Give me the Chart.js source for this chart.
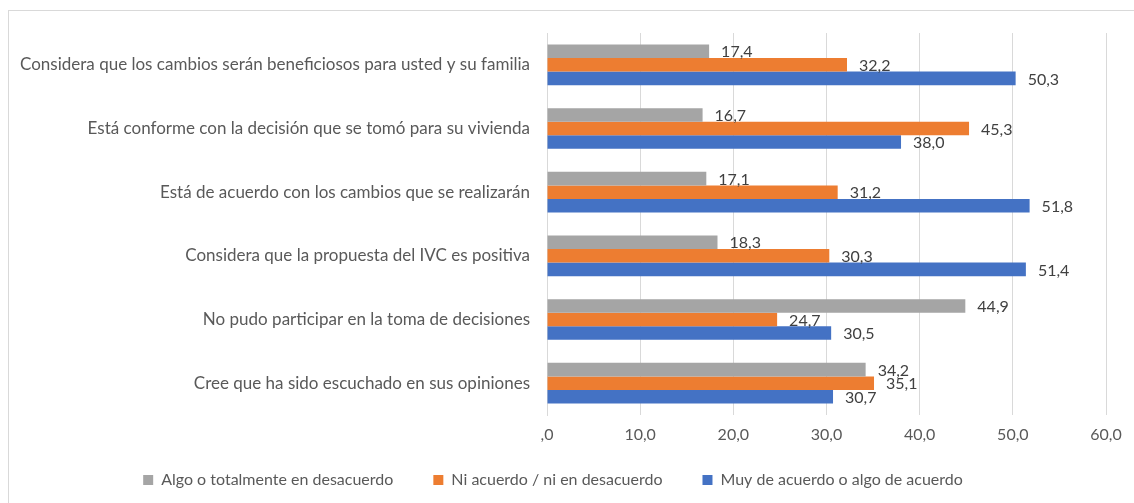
<!DOCTYPE html>
<html>
<head>
<meta charset="utf-8">
<script src="https://cdn.jsdelivr.net/npm/chart.js@4/dist/chart.umd.min.js"></script>
<style>
  html, body { margin: 0; padding: 0; background: #fff; }
  #wrap { position: relative; width: 1134px; height: 503px; }
  #frame { position: absolute; left: 8px; top: 10px; width: 1140px; height: 500px;
           border-left: 1px solid #D9D9D9; border-top: 1px solid #D9D9D9; box-sizing: border-box; }
  canvas { position: absolute; left: 0; top: 0; }
</style>
</head>
<body>
<div id="wrap">
  <div id="frame"></div>
  <canvas id="c" width="1134" height="503"></canvas>
</div>
<script>
const categories = [
  "Considera que los cambios serán beneficiosos para usted y su familia",
  "Está conforme con la decisión que se tomó para su vivienda",
  "Está de acuerdo con los cambios que se realizarán",
  "Considera que la propuesta del IVC es positiva",
  "No pudo participar en la toma de decisiones",
  "Cree que ha sido escuchado en sus opiniones"
];
const seriesNames = [
  "Algo o totalmente en desacuerdo",
  "Ni acuerdo / ni en desacuerdo",
  "Muy de acuerdo o algo de acuerdo"
];
const desacuerdo = [17.4, 16.7, 17.1, 18.3, 44.9, 34.2];
const niAcuerdo  = [32.2, 45.3, 31.2, 30.3, 24.7, 35.1];
const deAcuerdo  = [50.3, 38.0, 51.8, 51.4, 30.5, 30.7];
const xTicks = [0, 10, 20, 30, 40, 50, 60];

const FONT = "Lato, 'Open Sans', sans-serif";
const fmt = v => v === 0 ? ",0" : v.toFixed(1).replace(".", ",");

const valueLabels = {
  id: "valueLabels",
  afterDatasetsDraw(chart) {
    const ctx = chart.ctx;
    ctx.save();
    ctx.font = "16px " + FONT;
    ctx.fillStyle = "#404040";
    ctx.textAlign = "left";
    ctx.textBaseline = "middle";
    chart.data.datasets.forEach((ds, i) => {
      const meta = chart.getDatasetMeta(i);
      meta.data.forEach((bar, j) => {
        ctx.fillText(fmt(ds.data[j]), bar.x + 12, bar.y + 1);
      });
    });
    ctx.restore();
  }
};

new Chart(document.getElementById("c"), {
  type: "bar",
  data: {
    labels: categories,
    datasets: [
      { label: seriesNames[0], data: desacuerdo, backgroundColor: "#A5A5A5" },
      { label: seriesNames[1], data: niAcuerdo, backgroundColor: "#ED7D31" },
      { label: seriesNames[2], data: deAcuerdo, backgroundColor: "#4472C4" }
    ]
  },
  options: {
    indexAxis: "y",
    responsive: false,
    animation: false,
    maintainAspectRatio: false,
    layout: { padding: { left: 0, right: 28, top: 33, bottom: 5 } },
    datasets: { bar: { categoryPercentage: 0.64, barPercentage: 1.0, borderWidth: 0 } },
    scales: {
      x: {
        min: 0, max: 60,
        afterBuildTicks: s => { s.ticks = xTicks.map(v => ({ value: v })); },
        ticks: { callback: v => fmt(v), color: "#595959", font: { family: FONT, size: 16 }, padding: 10 },
        grid: { color: "#D9D9D9", drawTicks: false, lineWidth: 1 },
        border: { display: false },
        afterFit: s => { s.height = 17; s._computeLabelArea = () => undefined; }
      },
      y: {
        ticks: { color: "#595959", font: { family: FONT, size: 17 }, padding: 17 },
        grid: { display: false, drawTicks: false },
        border: { display: true, color: "#D9D9D9" },
        afterFit: s => { s.width = 547; }
      }
    },
    plugins: {
      legend: {
        position: "bottom",
        labels: { boxWidth: 10, boxHeight: 10, padding: 40, color: "#595959", font: { family: FONT, size: 16 } }
      },
      tooltip: { enabled: false }
    }
  },
  plugins: [valueLabels]
});
</script>
</body>
</html>
